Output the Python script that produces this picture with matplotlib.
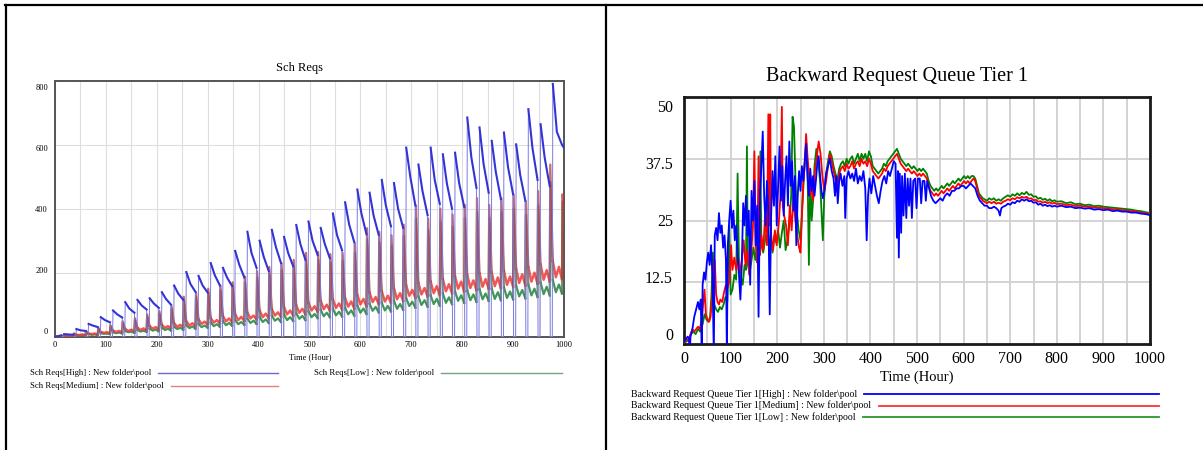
import numpy as np
import matplotlib.pyplot as plt
from matplotlib.lines import Line2D

plt.rcParams['font.family'] = ['Liberation Serif', 'DejaVu Serif']

W, H = 1203, 450

# ---------- left chart: Sch Reqs, values read once per 24 h cycle ----------
cycle_len = 24
first_jump = 17

sch_high_head = [(0, 0), (4, 1), (8, 2.5), (12, 4)]
sch_high_peak = [8, 24, 40, 61, 82, 108, 115, 120, 139, 160, 202, 190, 230, 215, 268, 328, 300, 334,
                 312, 349, 360, 340, 385, 420, 460, 450, 490, 480, 591, 538, 591, 570, 575, 685, 654,
                 612, 638, 601, 711, 664, 790]
sch_high_mid = [7, 20, 35, 52, 70, 88, 98, 104, 118, 135, 165, 160, 192, 185, 225, 262, 250, 280,
                262, 290, 300, 290, 318, 350, 385, 378, 410, 400, 500, 455, 490, 478, 480, 560, 540,
                515, 530, 505, 590, 560, 640]
sch_high_end = [6, 18, 30, 45, 60, 75, 85, 90, 100, 115, 140, 138, 160, 158, 185, 215, 205, 230,
                220, 240, 255, 245, 270, 295, 320, 318, 345, 340, 410, 380, 415, 400, 405, 465, 450,
                430, 445, 425, 490, 470, 600]
sch_high_tail = [(1000, 590)]

sch_med_head = [(0, 0), (6, 1), (12, 2)]
sch_med_spike = [3, 10, 18, 28, 36, 48, 58, 70, 80, 95, 125, 138, 150, 160, 170, 188, 205, 218,
                 230, 240, 262, 265, 258, 262, 291, 339, 328, 317, 350, 410, 370, 400, 382, 412, 433,
                 412, 433, 444, 423, 455, 538]
sch_med_base = [[3, 2, 3, 2], [6, 5, 7, 5], [10, 8, 10, 7], [15, 12, 14, 11], [19, 15, 18, 14],
                [24, 18, 22, 17], [28, 21, 26, 20], [33, 25, 30, 23], [37, 28, 33, 26],
                [42, 31, 37, 30], [48, 35, 42, 33], [54, 40, 47, 38], [58, 44, 52, 41],
                [64, 48, 57, 45], [70, 52, 62, 49], [75, 57, 66, 54], [82, 61, 72, 58],
                [86, 66, 76, 62], [92, 70, 82, 66], [98, 75, 87, 70], [106, 82, 95, 78],
                [112, 86, 100, 82], [116, 90, 104, 85], [120, 94, 110, 88], [130, 101, 118, 95],
                [138, 108, 124, 102], [142, 110, 128, 106], [150, 117, 136, 112],
                [160, 128, 146, 122], [168, 132, 152, 126], [172, 136, 158, 130],
                [180, 142, 164, 136], [188, 150, 172, 142], [192, 152, 176, 146],
                [198, 156, 180, 150], [200, 158, 185, 152], [206, 162, 188, 156],
                [212, 168, 195, 160], [218, 172, 200, 165], [226, 178, 208, 172],
                [236, 186, 218, 180]]
sch_med_tail = [(997, 445), (1000, 400)]

sch_low_head = [(0, 0), (6, 1), (12, 1.5)]
sch_low_spike = [3, 9, 16, 25, 32, 43, 52, 63, 72, 86, 112, 124, 135, 144, 153, 170, 185, 196,
                 207, 216, 236, 240, 232, 236, 262, 305, 295, 285, 315, 370, 333, 360, 344, 371, 390,
                 371, 390, 400, 381, 410, 484]
sch_low_base = [[2, 2, 2, 1], [5, 4, 5, 3], [8, 6, 7, 5], [11, 9, 10, 8], [14, 11, 13, 10],
                [18, 14, 16, 12], [21, 16, 19, 15], [25, 19, 22, 17], [28, 21, 25, 19],
                [31, 24, 28, 22], [36, 27, 32, 25], [40, 30, 35, 28], [44, 33, 39, 31],
                [48, 36, 43, 34], [52, 39, 46, 37], [56, 43, 50, 40], [61, 46, 54, 43],
                [65, 50, 57, 46], [69, 52, 61, 49], [73, 56, 65, 52], [79, 61, 71, 58],
                [84, 64, 75, 61], [87, 67, 78, 63], [90, 70, 82, 66], [97, 75, 88, 71],
                [103, 81, 93, 76], [106, 82, 96, 79], [112, 87, 102, 84], [120, 96, 109, 91],
                [126, 99, 114, 94], [129, 102, 118, 97], [135, 106, 123, 102],
                [141, 112, 129, 106], [144, 114, 132, 109], [148, 117, 135, 112],
                [150, 118, 139, 114], [154, 121, 141, 117], [159, 126, 146, 120],
                [163, 129, 150, 124], [169, 133, 156, 129], [177, 139, 163, 135]]
sch_low_tail = [(997, 420), (1000, 430)]

# ---------- right chart: Backward Request Queue Tier 1, (hour, value) ----------
queue_high = [
    (0, 0.5), (4, 1.0), (8, 1.5), (11, 1.0), (12, -2), (14, 1.5), (18, 3.0), (22, 5.5), (26, 7.0),
    (30, 8.5), (33, 7.0), (36, 9.0), (38, -2), (40, 12.0), (43, 14.5), (46, 13.0), (49, 16.5),
    (52, 18.5), (55, 16.0), (58, 20.0), (61, 14.0), (64, -2), (66, 22.0), (69, 23.5), (72, 21.0),
    (75, 26.5), (78, 22.5), (81, 24.0), (84, 19.5), (87, 22.0), (90, 17.0), (92, -2), (94, 20.0),
    (97, 25.0), (100, 29.0), (103, 23.5), (106, 27.0), (109, 21.0), (112, 24.0), (115, 18.0),
    (118, 14.0), (121, 9.0), (124, 16.0), (127, 28.5), (130, 24.0), (133, 30.0), (136, 22.0),
    (139, 27.0), (142, 12.0), (145, 31.0), (148, 25.0), (151, 33.0), (154, 20.0), (157, 28.0),
    (160, 5.5), (163, 30.0), (166, 36.0), (169, 43.0), (172, 30.0), (175, 24.0), (178, 33.0),
    (181, 27.0), (184, 6.0), (187, 26.0), (190, 35.0), (193, 28.0), (196, 38.0), (199, 24.0),
    (202, 32.0), (205, 40.0), (208, 29.0), (211, 36.0), (214, 26.0), (217, 33.0), (220, 38.0),
    (223, 28.0), (226, 41.0), (229, 32.0), (232, 37.0), (235, 27.0), (238, 34.0), (241, 20.0),
    (244, 30.0), (247, 35.0), (250, 31.0), (253, 36.0), (256, 33.0), (259, 37.0), (262, 40.5),
    (265, 34.0), (268, 30.0), (271, 35.5), (274, 31.0), (277, 34.0), (280, 30.0), (283, 33.0),
    (286, 36.5), (289, 38.0), (292, 34.0), (295, 31.0), (298, 29.5), (301, 31.0), (305, 34.5),
    (309, 36.0), (313, 37.5), (317, 35.0), (321, 33.5), (324, 30.0), (327, 34.0), (330, 28.5),
    (333, 33.0), (336, 34.5), (340, 32.0), (344, 34.0), (346, 25.5), (349, 33.5), (353, 35.0),
    (357, 33.5), (361, 34.5), (365, 33.0), (369, 35.5), (373, 32.5), (377, 34.0), (381, 33.0),
    (385, 35.0), (389, 31.5), (392, 21.0), (395, 30.0), (398, 33.5), (402, 30.5), (406, 34.0),
    (410, 32.0), (414, 30.0), (418, 28.5), (422, 31.0), (426, 33.0), (430, 34.0), (434, 32.5),
    (438, 35.0), (442, 34.0), (446, 35.5), (450, 37.0), (454, 36.5), (457, 21.5), (459, 35.0),
    (461, 17.5), (463, 34.5), (466, 22.5), (468, 34.0), (471, 26.0), (474, 34.5), (477, 25.5),
    (480, 33.5), (483, 28.0), (486, 33.5), (489, 25.5), (492, 33.0), (496, 33.5), (499, 27.5),
    (502, 33.5), (506, 33.5), (509, 28.5), (512, 33.0), (516, 33.0), (519, 29.0), (522, 33.0),
    (526, 31.5), (530, 30.0), (535, 29.0), (540, 28.5), (545, 29.0), (550, 29.5), (555, 29.0),
    (560, 30.0), (565, 30.5), (570, 30.0), (575, 31.0), (580, 31.0), (585, 31.5), (590, 31.5),
    (595, 32.0), (600, 32.0), (605, 31.5), (610, 32.0), (615, 32.5), (620, 32.0), (625, 31.5),
    (630, 30.0), (635, 29.0), (640, 28.5), (645, 28.0), (650, 28.0), (655, 27.5), (660, 27.5),
    (665, 27.8), (670, 27.5), (675, 27.0), (678, 26.0), (681, 27.5), (685, 27.8), (690, 28.0),
    (695, 28.4), (700, 28.2), (705, 28.7), (710, 28.5), (715, 29.0), (720, 28.8), (725, 29.3),
    (730, 29.0), (735, 29.3), (740, 28.9), (745, 29.0), (750, 28.6), (755, 28.7), (760, 28.2),
    (765, 28.4), (770, 28.0), (775, 28.2), (780, 27.9), (785, 28.1), (790, 27.8), (795, 28.0),
    (800, 27.8), (810, 28.0), (820, 27.7), (830, 27.8), (840, 27.5), (850, 27.6), (860, 27.4),
    (870, 27.5), (880, 27.2), (890, 27.3), (900, 27.1), (910, 27.2), (920, 26.9), (930, 27.0),
    (940, 26.8), (950, 26.8), (960, 26.6), (970, 26.6), (980, 26.4), (990, 26.3), (1000, 26.1)]

queue_medium = [
    (0, 0.5), (5, 1.0), (10, 0.5), (14, 2.0), (18, 3.0), (22, 2.5), (26, 3.0), (30, 3.5),
    (34, 3.0), (38, 5.0), (41, 8.0), (44, 11.0), (47, 6.0), (50, 5.0), (54, 4.5), (57, 5.5),
    (60, 9.0), (63, 14.0), (66, 17.0), (69, 10.0), (72, 8.5), (75, 8.0), (78, 9.0), (82, 8.5),
    (86, 10.5), (90, 12.0), (94, 11.5), (98, 13.0), (101, 20.0), (104, 15.0), (108, 17.5),
    (112, 15.0), (116, 17.5), (120, 14.5), (124, 17.0), (128, 21.0), (132, 16.0), (136, 19.0),
    (140, 14.0), (144, 18.0), (148, 24.0), (151, 39.0), (154, 20.0), (157, 16.5), (160, 38.0),
    (163, 18.0), (166, 22.0), (170, 19.0), (174, 26.0), (178, 20.0), (181, 46.5), (183, 24.0),
    (185, 46.5), (187, 22.0), (191, 19.0), (195, 23.0), (199, 20.0), (203, 24.0), (207, 30.0),
    (210, 48.0), (212, 28.0), (215, 26.0), (219, 24.0), (223, 20.0), (227, 28.0), (231, 23.0),
    (235, 30.0), (239, 25.0), (243, 22.0), (247, 19.5), (250, 18.5), (253, 26.0), (256, 33.0),
    (259, 36.0), (262, 42.5), (265, 38.0), (268, 34.5), (271, 30.0), (274, 33.0), (277, 29.0),
    (281, 35.0), (285, 38.0), (289, 41.0), (293, 38.5), (297, 34.0), (301, 31.0), (305, 33.0),
    (309, 36.0), (313, 38.5), (317, 37.0), (321, 35.0), (325, 33.5), (329, 32.0), (333, 34.5),
    (337, 35.5), (341, 36.0), (345, 35.0), (349, 36.5), (353, 35.5), (357, 36.0), (361, 37.0),
    (365, 35.5), (369, 36.5), (373, 37.0), (377, 36.0), (381, 37.5), (385, 36.5), (389, 37.0),
    (393, 36.0), (397, 37.5), (401, 36.5), (405, 35.0), (409, 34.5), (413, 34.0), (417, 33.5),
    (421, 34.0), (425, 34.5), (429, 35.5), (433, 35.0), (437, 36.0), (441, 36.5), (445, 37.0),
    (449, 37.5), (453, 38.0), (457, 38.5), (461, 37.5), (465, 36.5), (469, 36.0), (473, 35.5),
    (477, 35.0), (481, 35.5), (485, 35.0), (489, 34.5), (493, 35.0), (497, 34.5), (501, 34.0),
    (505, 34.5), (509, 34.0), (513, 34.5), (517, 34.0), (521, 33.5), (525, 32.0), (529, 31.0),
    (533, 30.5), (537, 30.0), (541, 30.5), (545, 30.0), (549, 30.5), (553, 31.0), (557, 30.5),
    (561, 31.0), (565, 31.5), (569, 31.0), (573, 31.5), (577, 32.0), (581, 31.5), (585, 32.0),
    (589, 32.5), (593, 32.0), (597, 32.5), (601, 33.0), (605, 32.5), (609, 33.0), (613, 32.5),
    (617, 33.0), (621, 33.5), (625, 33.0), (629, 31.5), (633, 30.0), (637, 29.5), (641, 29.0),
    (645, 28.8), (650, 28.5), (655, 28.8), (660, 28.5), (665, 28.8), (670, 28.4), (675, 28.6),
    (680, 28.4), (685, 28.8), (690, 29.0), (695, 29.3), (700, 29.1), (705, 29.5), (710, 29.3),
    (715, 29.7), (720, 29.5), (725, 29.8), (730, 29.6), (735, 29.8), (740, 29.4), (745, 29.5),
    (750, 29.1), (755, 29.2), (760, 28.8), (765, 28.9), (770, 28.6), (775, 28.8), (780, 28.5),
    (785, 28.7), (790, 28.4), (795, 28.6), (800, 28.3), (810, 28.4), (820, 28.1), (830, 28.2),
    (840, 27.9), (850, 28.0), (860, 27.8), (870, 27.8), (880, 27.6), (890, 27.6), (900, 27.5),
    (910, 27.4), (920, 27.3), (930, 27.2), (940, 27.1), (950, 27.0), (960, 26.9), (970, 26.8),
    (980, 26.6), (990, 26.5), (1000, 26.3)]

queue_low = [
    (0, 0.3), (5, 0.5), (10, 1.0), (15, 2.0), (20, 2.5), (25, 2.0), (30, 3.0), (35, 2.5),
    (40, 4.0), (44, 6.0), (48, 5.0), (52, 4.5), (56, 5.5), (59, 10.0), (62, 18.5), (65, 8.0),
    (69, 7.0), (73, 6.5), (77, 7.5), (81, 7.0), (85, 8.0), (89, 9.5), (93, 8.5), (97, 24.0),
    (100, 10.0), (104, 11.0), (108, 14.0), (112, 13.0), (115, 34.5), (118, 16.0), (122, 13.5),
    (126, 12.0), (130, 16.0), (133, 15.0), (135, 40.0), (137, 16.0), (141, 14.5), (145, 17.0),
    (149, 19.5), (153, 17.0), (157, 20.0), (161, 18.0), (164, 39.0), (166, 20.0), (170, 18.5),
    (174, 21.0), (178, 23.0), (182, 20.0), (186, 22.0), (190, 18.5), (194, 22.0), (198, 20.5),
    (202, 23.0), (206, 19.5), (210, 22.5), (214, 25.0), (218, 19.0), (222, 21.0), (226, 24.0),
    (230, 30.0), (233, 46.0), (236, 44.0), (239, 34.0), (242, 27.0), (246, 23.0), (250, 21.0),
    (254, 28.0), (258, 35.0), (262, 41.0), (265, 36.0), (268, 16.0), (271, 34.0), (274, 25.0),
    (277, 29.0), (280, 36.0), (284, 39.5), (288, 37.0), (292, 33.0), (296, 25.0), (298, 21.0),
    (301, 30.0), (305, 34.5), (309, 37.0), (313, 39.0), (317, 38.0), (321, 36.0), (325, 34.5),
    (329, 33.0), (333, 35.5), (337, 36.5), (341, 37.0), (345, 36.0), (349, 37.5), (353, 36.5),
    (357, 37.5), (361, 38.0), (365, 36.5), (369, 37.5), (373, 38.5), (377, 37.0), (381, 38.5),
    (385, 37.5), (389, 38.5), (393, 37.0), (397, 39.0), (401, 38.0), (405, 36.0), (409, 35.5),
    (413, 35.0), (417, 34.5), (421, 35.0), (425, 35.5), (429, 36.5), (433, 36.0), (437, 37.0),
    (441, 37.5), (445, 38.0), (449, 38.5), (453, 39.0), (457, 39.5), (461, 38.5), (465, 37.5),
    (469, 37.0), (473, 36.5), (477, 36.0), (481, 36.5), (485, 36.0), (489, 35.5), (493, 36.0),
    (497, 35.5), (501, 35.0), (505, 35.5), (509, 35.0), (513, 35.5), (517, 35.0), (521, 34.5),
    (525, 33.0), (529, 32.0), (533, 31.5), (537, 31.0), (541, 31.5), (545, 31.0), (549, 31.5),
    (553, 32.0), (557, 31.5), (561, 32.0), (565, 32.5), (569, 32.0), (573, 32.5), (577, 33.0),
    (581, 32.5), (585, 33.0), (589, 33.5), (593, 33.0), (597, 33.5), (601, 34.0), (605, 33.5),
    (609, 34.0), (613, 33.5), (617, 34.0), (621, 34.0), (625, 33.5), (629, 32.0), (633, 30.5),
    (637, 30.0), (641, 29.5), (645, 29.3), (650, 29.0), (655, 29.5), (660, 29.2), (665, 29.5),
    (670, 29.0), (675, 29.3), (680, 29.0), (685, 29.5), (690, 29.8), (695, 30.1), (700, 29.8),
    (705, 30.3), (710, 30.0), (715, 30.5), (720, 30.1), (725, 30.6), (730, 30.3), (735, 30.8),
    (740, 30.2), (745, 30.3), (750, 29.8), (755, 29.9), (760, 29.4), (765, 29.6), (770, 29.2),
    (775, 29.4), (780, 29.0), (785, 29.3), (790, 28.9), (795, 29.1), (800, 28.8), (810, 28.9),
    (820, 28.5), (830, 28.7), (840, 28.3), (850, 28.4), (860, 28.1), (870, 28.2), (880, 27.9),
    (890, 28.0), (900, 27.8), (910, 27.7), (920, 27.6), (930, 27.5), (940, 27.4), (950, 27.3),
    (960, 27.2), (970, 27.0), (980, 26.9), (990, 26.7), (1000, 26.5)]

GAP = (np.nan, np.nan)


def high_parts(head, peak, mid, end, tail):
    # "busy" stretches drawn bold, the drop to zero and jump back drawn thin
    busy = list(head) + [GAP]
    drops = []
    prev = head[-1]
    for k in range(len(peak)):
        s = first_jump + cycle_len * k
        drops += [prev, (s - 4, 0), (s, 0), (s + 1, peak[k]), GAP]
        busy += [(s + 1, peak[k]), (s + 9, mid[k]), (s + 19, end[k]), GAP]
        prev = (s + 19, end[k])
    busy = busy[:-1] + list(tail)
    return [zip(*busy), zip(*drops)]


def spiky_parts(head, spike, base, tail):
    # baseline stretches and the short spikes while High is empty
    flat = list(head) + [GAP]
    spikes = []
    prev = head[-1]
    for k in range(len(spike)):
        s = first_jump + cycle_len * k
        seg = [(s + off, b) for off, b in zip((1, 7, 13, 19), base[k])]
        spikes += [prev, (s - 4, spike[k]), seg[0], GAP]
        flat += seg + [GAP]
        prev = seg[-1]
    spikes += [prev] + list(tail)
    return [zip(*flat), zip(*spikes)]


def fx(x):
    return x / W


def fy(y):
    return 1 - y / H


fig = plt.figure(figsize=(W / 100, H / 100), dpi=100)

# table frame around the two cells
for xs, ys in [((5, W), (5, 5)), ((6, 6), (5, H)), ((606, 606), (5, H))]:
    fig.add_artist(Line2D([fx(x) for x in xs], [fy(y) for y in ys], color='black', lw=1.6))

# ---------------- left chart ----------------
axL = fig.add_axes([fx(55), fy(336.7), fx(564) - fx(55), fy(80.7) - fy(336.7)])

low_flat, low_spk = spiky_parts(sch_low_head, sch_low_spike, sch_low_base, sch_low_tail)
med_flat, med_spk = spiky_parts(sch_med_head, sch_med_spike, sch_med_base, sch_med_tail)
hi_busy, hi_drop = high_parts(sch_high_head, sch_high_peak, sch_high_mid, sch_high_end, sch_high_tail)

t, v = low_flat
axL.plot(t, v, color='#2f8a47', lw=1.6, alpha=0.9, zorder=3)
t, v = med_flat
axL.plot(t, v, color='#f03a3a', lw=1.8, alpha=0.85, zorder=4)
t, v = low_spk
axL.plot(t, v, color='#4d7a45', lw=1.6, alpha=0.8, zorder=4.5)
t, v = med_spk
axL.plot(t, v, color='#b8383c', lw=1.6, alpha=0.75, zorder=5)
t, v = hi_drop
axL.plot(t, v, color='#7a7ae4', lw=0.7, zorder=6)
t, v = hi_busy
axL.plot(t, v, color='#3434d6', lw=1.5, zorder=7)

axL.set_xlim(0, 1000)
axL.set_ylim(0, 800)
axL.set_xticks(np.arange(0, 1001, 100))
axL.set_xticks(np.arange(0, 1001, 50), minor=True)
axL.set_yticks([19, 208, 398, 589, 779])
axL.set_yticklabels(['0', '200', '400', '600', '800'])
axL.set_yticks([200, 400, 600], minor=True)
axL.grid(True, which='both', axis='x', color='#dedede', lw=0.8)
axL.grid(True, which='minor', axis='y', color='#dedede', lw=0.8)
axL.set_axisbelow(True)
axL.tick_params(which='both', length=0, labelsize=6)
axL.tick_params(axis='x', pad=3)
axL.tick_params(axis='y', pad=5)
for sp in axL.spines.values():
    sp.set_color('#555555')
    sp.set_linewidth(1.4)

fig.text(fx(299), fy(68), 'Sch Reqs', ha='center', va='center', fontsize=9)
fig.text(fx(310), fy(357), 'Time (Hour)', ha='center', va='center', fontsize=6)

left_legend = [
    ('Sch Reqs[High] : New folder\\pool', 30, 373, 158, 278, '#6a6ad2'),
    ('Sch Reqs[Medium] : New folder\\pool', 30, 386, 171, 278, '#e28080'),
    ('Sch Reqs[Low] : New folder\\pool', 314, 373, 441, 562, '#77a07f'),
]
for label, xt, yt, x1, x2, col in left_legend:
    fig.text(fx(xt), fy(yt), label, ha='left', va='center', fontsize=6.3)
    fig.add_artist(Line2D([fx(x1), fx(x2)], [fy(yt), fy(yt)], color=col, lw=1.0))

# ---------------- right chart ----------------
axR = fig.add_axes([fx(684), fy(344), fx(1150) - fx(684), fy(97) - fy(344)])
t, v = zip(*queue_low)
axR.plot(t, v, color='#008000', lw=1.3, zorder=3)
t, v = zip(*queue_medium)
axR.plot(t, v, color='#ff0000', lw=1.3, zorder=4)
t, v = zip(*queue_high)
axR.plot(t, v, color='#0000ff', lw=1.3, zorder=5)

axR.set_xlim(0, 1000)
axR.set_ylim(0, 50)
axR.set_xticks(np.arange(0, 1001, 100))
axR.set_xticks(np.arange(0, 1001, 50), minor=True)
axR.set_yticks([2.0, 13.6, 25.1, 36.6, 48.2])
axR.set_yticklabels(['0', '12.5', '25', '37.5', '50'])
axR.set_yticks([12.5, 25, 37.5], minor=True)
axR.grid(True, which='both', axis='x', color='#d0d0d0', lw=1.3)
axR.grid(True, which='minor', axis='y', color='#d0d0d0', lw=1.3)
axR.set_axisbelow(True)
axR.tick_params(which='both', length=0, labelsize=11.5)
axR.tick_params(axis='x', pad=5)
axR.tick_params(axis='y', pad=8)
for sp in axR.spines.values():
    sp.set_color('#1a1a1a')
    sp.set_linewidth(2.0)

fig.text(fx(897), fy(77), 'Backward Request Queue Tier 1', ha='center', va='center', fontsize=14.5)
fig.text(fx(917), fy(377), 'Time (Hour)', ha='center', va='center', fontsize=10.5)

right_legend = [
    ('Backward Request Queue Tier 1[High] : New folder\\pool', 394, 864, '#0000ff'),
    ('Backward Request Queue Tier 1[Medium] : New folder\\pool', 405.5, 879, '#ff3030'),
    ('Backward Request Queue Tier 1[Low] : New folder\\pool', 417, 863, '#2a962a'),
]
for label, yt, x1, col in right_legend:
    fig.text(fx(631), fy(yt), label, ha='left', va='center', fontsize=7)
    fig.add_artist(Line2D([fx(x1), fx(1159)], [fy(yt), fy(yt)], color=col, lw=1.3))

fig.savefig('out.png', dpi=100)
